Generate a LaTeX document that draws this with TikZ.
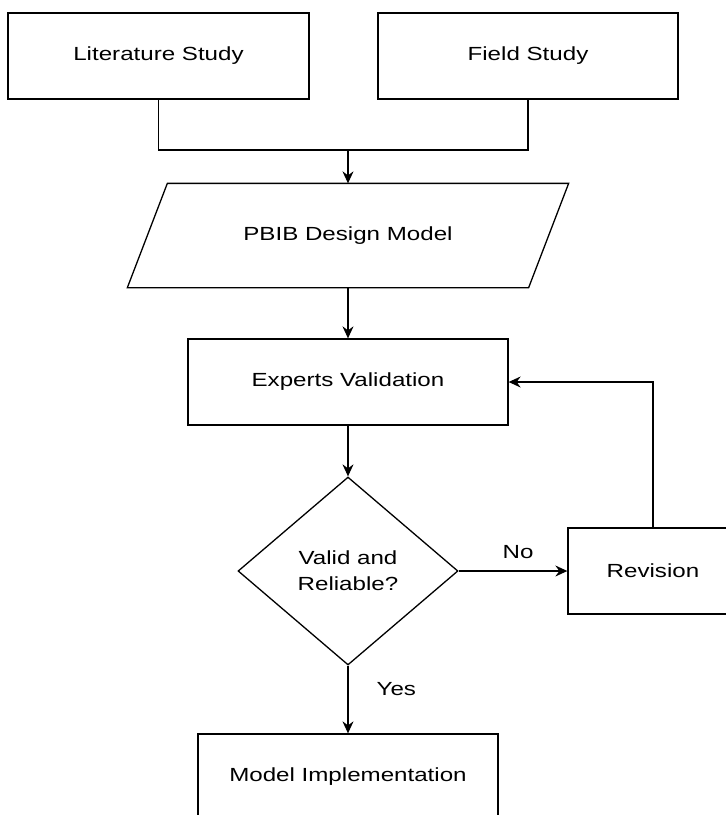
\documentclass[tikz,border=0pt]{standalone}
\usepackage{fontspec}
\setmainfont{Liberation Sans}[FakeStretch=1.27]
\usetikzlibrary{arrows.meta,shapes.geometric}

\begin{document}
\begin{tikzpicture}[x=1pt,y=1pt,line width=1.3pt,font=\fontsize{19}{26}\selectfont]
		\tikzstyle{every node}+=[inner sep=0pt]
		\tikzstyle{stepbox}=[draw,rectangle,minimum height=86pt]
		\tikzstyle{flow}=[-{Stealth[length=12pt,width=11pt,inset=4pt]}]
		\useasboundingbox (0,0) rectangle (726,-815);
		\fill [white] (0,0) rectangle (726,-815);
		\clip (0,0) rectangle (726,-815);
		% boxes
		\node [stepbox,minimum width=301pt] (lit) at (158.5,-56) {Literature Study};
		\node [stepbox,minimum width=300pt] (field) at (528,-56) {Field Study};
		\node [minimum width=400pt,minimum height=103pt] (pbib) at (348,-235.5) {PBIB Design Model};
		\draw ([xshift=20pt]pbib.north west) -- ([xshift=20pt]pbib.north east) -- ([xshift=-20pt]pbib.south east) -- ([xshift=-20pt]pbib.south west) -- cycle;
		\node [stepbox,minimum width=320pt] (exp) at (348,-382) {Experts Validation};
		\node [draw,diamond,minimum width=220pt,minimum height=188pt,align=center] (dec) at (348,-571) {Valid and\\Reliable?};
		\node [stepbox,minimum width=170pt] (rev) at (653,-571) {Revision};
		\node [stepbox,minimum width=300pt] (impl) at (348,-777) {Model Implementation};
		% connectors
		\coordinate (join) at (348,-150);
		\draw (lit.south) |- (join);
		\draw (field.south) |- (join);
		\draw [flow] (join) -- (pbib.north);
		\draw [flow] (pbib.south) -- (exp.north);
		\draw [flow] (exp.south) -- (dec.north);
		\draw [flow] (dec.east) -- node [above=12pt,xshift=5pt] {No} (rev.west);
		\draw [flow] (rev.north) |- (exp.east);
		\draw [flow] (dec.south) -- node [right=28pt,pos=0.34] {Yes} (impl.north);
\end{tikzpicture}
\end{document}
